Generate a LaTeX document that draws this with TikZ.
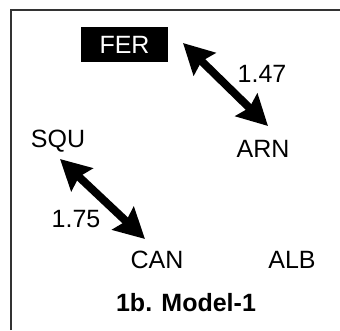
\documentclass[tikz,border=0pt]{standalone}
\usepackage{fontspec}
\setmainfont{Liberation Sans}
\usetikzlibrary{arrows.meta}
\begin{document}
\begin{tikzpicture}[x=1pt,y=-1pt,
  lbl/.style={font=\fontsize{25}{25}\selectfont, inner sep=0pt},
  dbl/.style={line width=8pt, {Stealth[length=30pt,width=31pt,inset=4pt]}-{Stealth[length=30pt,width=31pt,inset=4pt]}},
  frame/.style={line width=1.2pt, draw=black!80}]
\useasboundingbox (0,0) rectangle (340,330);
\coordinate (fa) at (11,330);
\coordinate (fb) at (11,10);
\coordinate (fc) at (340,10);
\draw[frame] (fa) -- (fb) -- (fc);
\node[lbl, fill=black, text=white, minimum width=87pt, minimum height=35pt] (FER) at (124.5,44.5) {FER};
\node[lbl] (ARN) at (263,149) {ARN};
\node[lbl] (SQU) at (58,141) {SQU};
\node[lbl] (CAN) at (157,260) {CAN};
\node[lbl] (ALB) at (292,260) {ALB};
\node[lbl] (l147) at (262,74) {1.47};
\node[lbl] (l175) at (76,219) {1.75};
\node[lbl, font=\fontsize{25}{25}\selectfont\bfseries] (title) at (186,303) {1b. Model-1};
\coordinate (a1) at (183,43);
\coordinate (a2) at (268,126);
\coordinate (b1) at (60,159);
\coordinate (b2) at (145,239);
\draw[dbl] (a1) -- (a2);
\draw[dbl] (b1) -- (b2);
\end{tikzpicture}
\end{document}
